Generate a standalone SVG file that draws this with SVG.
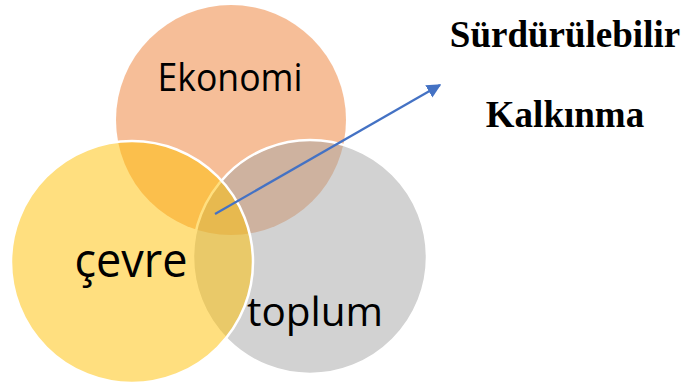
<svg xmlns="http://www.w3.org/2000/svg" width="684" height="387" viewBox="0 0 684 387">
<defs>
<style>
.c{fill-opacity:0.5;}
.lbl{font-family:"Open Sans","Noto Sans",sans-serif;fill:#000;}
.t{font-family:"Liberation Serif","Times New Roman",serif;font-weight:bold;font-size:37px;fill:#000;text-anchor:middle;}
</style>
<marker id="ah" viewBox="0 0 10 10" refX="9" refY="5" markerWidth="6.5" markerHeight="6.5" orient="auto" markerUnits="strokeWidth">
<path d="M0,0 L10,5 L0,10 z" fill="#4472C4"/>
</marker>
</defs>
<rect width="684" height="387" fill="#fff"/>
<g id="ekonomi">
<circle class="c" cx="231" cy="120" r="115" fill="#ED7D31"/>
<text class="lbl" x="230" y="91" font-size="38" text-anchor="middle" textLength="145" lengthAdjust="spacingAndGlyphs">Ekonomi</text>
</g>
<g id="toplum">
<circle class="c" cx="310" cy="257" r="117" fill="#A5A5A5" stroke="#fff" stroke-width="2.5" stroke-opacity="1"/>
<text class="lbl" x="315" y="326" font-size="40" text-anchor="middle" textLength="136" lengthAdjust="spacingAndGlyphs">toplum</text>
</g>
<g id="cevre">
<circle class="c" cx="132" cy="262" r="121" fill="#FFC000" stroke="#fff" stroke-width="2.5" stroke-opacity="1"/>
<text class="lbl" x="131" y="277" font-size="47" text-anchor="middle" textLength="113" lengthAdjust="spacingAndGlyphs">çevre</text>
</g>
<g id="connectors">
<line x1="215" y1="214" x2="440" y2="85" stroke="#4472C4" stroke-width="2.2" marker-end="url(#ah)"/>
</g>
<g id="title">
<text class="t" x="565" y="47">Sürdürülebilir</text>
<text class="t" x="565" y="127">Kalkınma</text>
</g>
</svg>
